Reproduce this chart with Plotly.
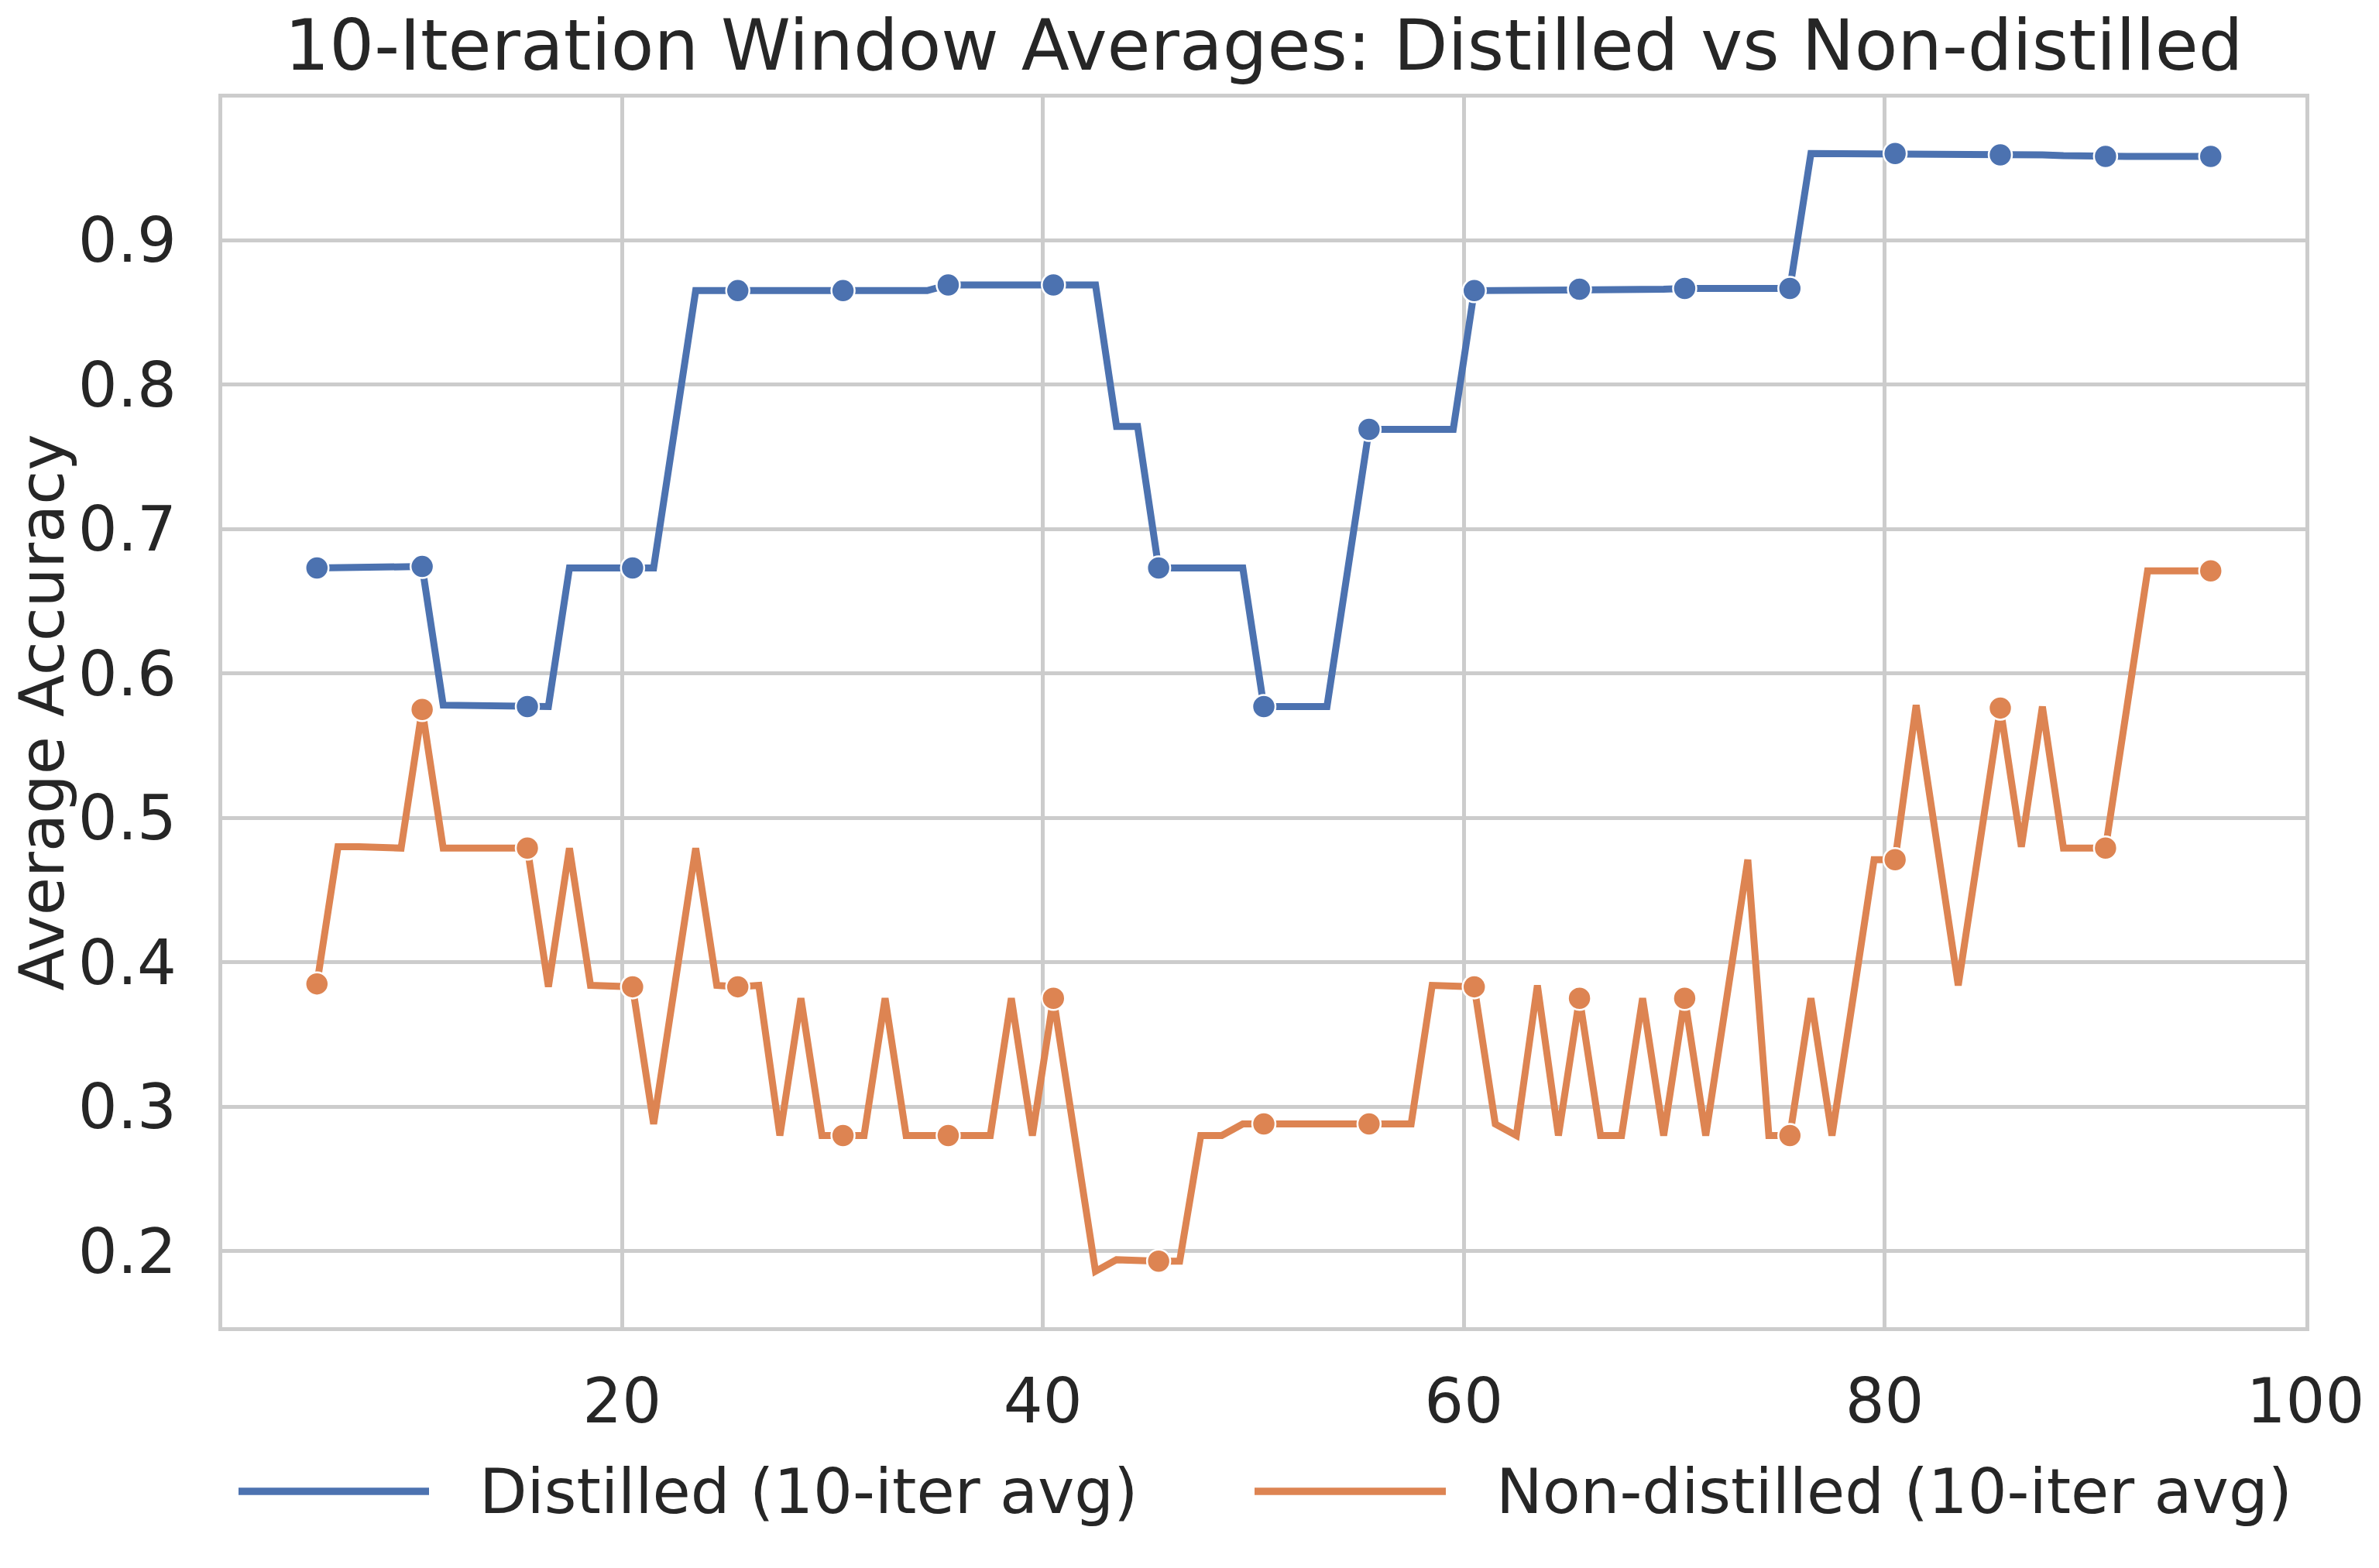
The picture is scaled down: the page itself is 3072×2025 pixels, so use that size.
import plotly.graph_objects as go

# ---------------- data ----------------
iterations = [
    5.5, 6.5, 7.5, 8.5, 9.5, 10.5, 11.5, 12.5, 13.5, 14.5,
    15.5, 16.5, 17.5, 18.5, 19.5, 20.5, 21.5, 22.5, 23.5, 24.5,
    25.5, 26.5, 27.5, 28.5, 29.5, 30.5, 31.5, 32.5, 33.5, 34.5,
    35.5, 36.5, 37.5, 38.5, 39.5, 40.5, 41.5, 42.5, 43.5, 44.5,
    45.5, 46.5, 47.5, 48.5, 49.5, 50.5, 51.5, 52.5, 53.5, 54.5,
    55.5, 56.5, 57.5, 58.5, 59.5, 60.5, 61.5, 62.5, 63.5, 64.5,
    65.5, 66.5, 67.5, 68.5, 69.5, 70.5, 71.5, 72.5, 73.5, 74.5,
    75.5, 76.5, 77.5, 78.5, 79.5, 80.5, 81.5, 82.5, 83.5, 84.5,
    85.5, 86.5, 87.5, 88.5, 89.5, 90.5, 91.5, 92.5, 93.5, 94.5,
    95.5,
]

distilled = [
    0.673, 0.673, 0.673, 0.673, 0.6735, 0.674, 0.578, 0.578, 0.577, 0.577,
    0.577, 0.577, 0.673, 0.673, 0.673, 0.673, 0.673, 0.769, 0.865, 0.865,
    0.865, 0.865, 0.865, 0.865, 0.865, 0.865, 0.865, 0.865, 0.865, 0.865,
    0.869, 0.869, 0.869, 0.869, 0.869, 0.869, 0.869, 0.869, 0.771, 0.771,
    0.673, 0.673, 0.673, 0.673, 0.673, 0.577, 0.577, 0.577, 0.577, 0.673,
    0.769, 0.769, 0.769, 0.769, 0.769, 0.865, 0.865, 0.8655, 0.866, 0.866,
    0.866, 0.866, 0.866, 0.866, 0.866, 0.8665, 0.8665, 0.8665, 0.8665, 0.8665,
    0.8665, 0.960, 0.960, 0.960, 0.960, 0.960, 0.960, 0.960, 0.960, 0.9595,
    0.959, 0.959, 0.959, 0.9585, 0.958, 0.958, 0.958, 0.958, 0.958, 0.958,
    0.958,
]

non_distilled = [
    0.385, 0.480, 0.480, 0.479, 0.479, 0.575, 0.479, 0.479, 0.479, 0.479,
    0.479, 0.383, 0.479, 0.384, 0.384, 0.383, 0.288, 0.384, 0.479, 0.384,
    0.383, 0.384, 0.280, 0.375, 0.280, 0.280, 0.280, 0.375, 0.280, 0.280,
    0.280, 0.280, 0.280, 0.375, 0.280, 0.375, 0.280, 0.186, 0.194, 0.193,
    0.193, 0.193, 0.280, 0.280, 0.288, 0.288, 0.288, 0.288, 0.288, 0.288,
    0.288, 0.288, 0.288, 0.384, 0.384, 0.383, 0.288, 0.280, 0.384, 0.280,
    0.375, 0.280, 0.280, 0.375, 0.280, 0.375, 0.280, 0.375, 0.471, 0.280,
    0.280, 0.375, 0.280, 0.375, 0.471, 0.471, 0.578, 0.481, 0.384, 0.480,
    0.576, 0.480, 0.577, 0.479, 0.479, 0.479, 0.575, 0.671, 0.671, 0.671,
    0.671,
]

series_names = ["Distilled (10-iter avg)", "Non-distilled (10-iter avg)"]
series_values = [distilled, non_distilled]
x_tick_values = [20, 40, 60, 80, 100]
y_tick_values = [0.2, 0.3, 0.4, 0.5, 0.6, 0.7, 0.8, 0.9]
chart_title = "10-Iteration Window Averages: Distilled vs Non-distilled"
y_title = "Average Accuracy"
MARK_EVERY = 5

# ---------------- style / layout ----------------
COLORS = ["#4c72b0", "#dd8452"]
FONT = "DejaVu Sans"
TEXT_COLOR = "#262626"
GRID = "#cccccc"

# target geometry in window pixels (3072 x 2025); the page body adds 8px offset
SCREEN_W, SCREEN_H = 3072, 2025
BODY = 8
PLOT_X0, PLOT_X1 = 287, 2977
PLOT_Y0, PLOT_Y1 = 126, 1714

W = SCREEN_W - 2 * BODY
H = SCREEN_H - 2 * BODY
M_L = PLOT_X0 - BODY
M_T = PLOT_Y0 - BODY
M_R = W - (PLOT_X1 - BODY)
M_B = H - (PLOT_Y1 - BODY)

LINE_W = 9
fig = go.Figure()
for name, vals, col in zip(series_names, series_values, COLORS):
    fig.add_trace(go.Scatter(
        x=iterations, y=vals, mode="lines", name=name,
        line=dict(color=col, width=LINE_W), showlegend=False,
    ))
    fig.add_trace(go.Scatter(
        x=iterations[::MARK_EVERY], y=vals[::MARK_EVERY], mode="markers",
        name=name, showlegend=False,
        marker=dict(color=col, size=30, line=dict(color="white", width=2.5)),
    ))

# axis ranges with 5% margins, like matplotlib autoscale
all_y = distilled + non_distilled
y_lo, y_hi = min(all_y), max(all_y)
y_pad = 0.05 * (y_hi - y_lo)
x_pad = 0.05 * (max(iterations) - min(iterations))

axis_common = dict(
    showline=True, mirror=True, linecolor=GRID, linewidth=5,
    showgrid=True, gridcolor=GRID, gridwidth=4.5,
    zeroline=False, ticks="",
    tickfont=dict(family=FONT, size=80, color=TEXT_COLOR),
)

fig.update_xaxes(
    range=[min(iterations) - x_pad, max(iterations) + x_pad],
    tickvals=x_tick_values, ticklabelstandoff=22, **axis_common,
)
fig.update_yaxes(
    range=[y_lo - y_pad, y_hi + y_pad],
    tickvals=y_tick_values, tickformat=".1f", ticklabelstandoff=38,
    title=dict(text=y_title, font=dict(family=FONT, size=80, color=TEXT_COLOR),
               standoff=22),
    **axis_common,
)

# legend below the plot, drawn as handles + real text
def px_to_paper_x(px):
    return (px - PLOT_X0) / (PLOT_X1 - PLOT_X0)
def px_to_paper_y(py):
    return (PLOT_Y1 - py) / (PLOT_Y1 - PLOT_Y0)

legend_y = px_to_paper_y(1926)
legend_items = [
    (308, 554, 617),
    (1620, 1867, 1930),
]
for (h0, h1, tx), name, col in zip(legend_items, series_names, COLORS):
    fig.add_shape(type="line", xref="paper", yref="paper",
                  x0=px_to_paper_x(h0), x1=px_to_paper_x(h1),
                  y0=legend_y, y1=legend_y,
                  line=dict(color=col, width=LINE_W + 0.5))
    fig.add_annotation(xref="paper", yref="paper",
                       x=px_to_paper_x(tx), y=legend_y,
                       xanchor="left", yanchor="middle", showarrow=False,
                       text=name,
                       font=dict(family=FONT, size=80, color=TEXT_COLOR))

title_center_x = (PLOT_X0 + PLOT_X1) / 2 - BODY
title_center_y = 58 - BODY
fig.update_layout(
    width=W, height=H,
    margin=dict(l=M_L, r=M_R, t=M_T, b=M_B),
    paper_bgcolor="white", plot_bgcolor="white",
    title=dict(text=chart_title, x=title_center_x / W, xanchor="center",
               xref="container", yref="container",
               y=1 - title_center_y / H, yanchor="middle",
               font=dict(family=FONT, size=91, color=TEXT_COLOR)),
    showlegend=False,
)

fig.write_html("out.html")
